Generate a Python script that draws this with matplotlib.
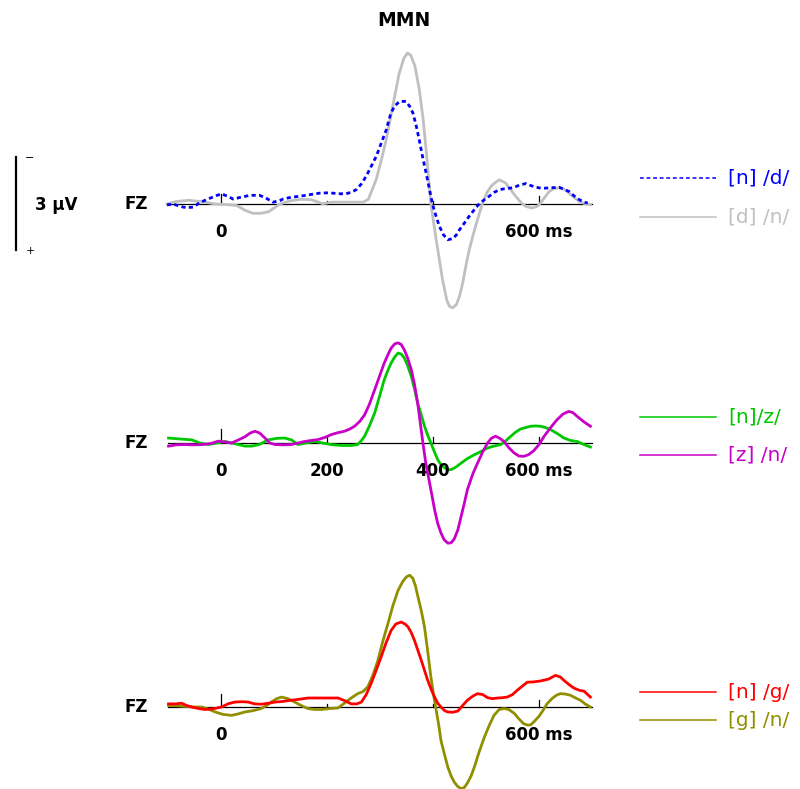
import matplotlib.pyplot as plt
from matplotlib.lines import Line2D

# ERP difference waves (µV, negative plotted up), time in ms
t_nd = [-102, -90, -77, -65, -52, -40, -27, -12, 1, 12, 23, 38, 55, 73, 86, 98, 110, 117, 133, 149,
        167, 186, 200, 211, 225, 236, 246, 255, 265, 274, 283, 293, 302, 312, 320, 327, 337, 349, 356,
        362, 368, 374, 380, 387, 393, 399, 405, 412, 420, 428, 437, 444, 450, 459, 468, 478, 487, 497,
        506, 515, 525, 537, 550, 562, 575, 587, 600, 610, 619, 630, 638, 648, 657, 667, 676, 685, 692]
v_nd = [0.03, 0.0, 0.08, 0.12, 0.1, -0.05, -0.14, -0.25, -0.33, -0.25, -0.16, -0.22, -0.28, -0.28,
        -0.18, -0.06, -0.1, -0.16, -0.22, -0.25, -0.3, -0.35, -0.36, -0.35, -0.33, -0.33, -0.38, -0.46,
        -0.65, -0.9, -1.2, -1.54, -1.95, -2.4, -2.9, -3.15, -3.31, -3.31, -3.15, -2.94, -2.55, -2.07,
        -1.55, -1.0, -0.5, 0.0, 0.35, 0.72, 1.0, 1.15, 1.12, 1.0, 0.83, 0.62, 0.4, 0.18, 0.0, -0.14,
        -0.25, -0.37, -0.46, -0.5, -0.52, -0.6, -0.66, -0.58, -0.52, -0.51, -0.52, -0.53, -0.54, -0.47,
        -0.4, -0.25, -0.14, -0.06, -0.03]

t_dn = [-102, -85, -60, -35, -10, 10, 30, 45, 60, 75, 90, 111, 130, 150, 170, 192, 210, 240, 268, 278,
        293, 303, 312, 324, 336, 345, 352, 358, 366, 374, 381, 387, 396, 406, 418, 426, 431, 437, 444,
        450, 456, 462, 468, 475, 484, 493, 502, 512, 525, 537, 547, 556, 566, 575, 587, 597, 603, 611,
        619, 628, 638, 648, 657, 667, 676, 685, 697]
v_dn = [0.0, -0.08, -0.12, -0.07, 0.0, 0.02, 0.05, 0.2, 0.3, 0.3, 0.25, 0.0, -0.1, -0.15, -0.14, -0.01,
        -0.06, -0.06, -0.06, -0.15, -0.8, -1.45, -2.1, -3.15, -4.2, -4.7, -4.87, -4.8, -4.45, -3.7,
        -2.8, -1.75, 0.0, 1.15, 2.44, 3.1, 3.3, 3.35, 3.25, 2.98, 2.55, 2.0, 1.5, 1.04, 0.5, 0.0, -0.38,
        -0.62, -0.78, -0.68, -0.45, -0.25, -0.05, 0.08, 0.13, 0.07, -0.03, -0.22, -0.4, -0.5, -0.52,
        -0.47, -0.35, -0.2, -0.08, -0.02, 0.02]

t_nz = [-99, -85, -70, -55, -40, -24, -8, 8, 20, 33, 45, 58, 72, 89, 105, 120, 133, 145, 160, 177, 192,
        208, 228, 246, 258, 265, 271, 280, 290, 299, 308, 315, 321, 328, 334, 340, 346, 352, 359, 365,
        371, 378, 384, 390, 396, 403, 409, 415, 422, 428, 434, 443, 453, 465, 478, 490, 503, 515, 528,
        538, 547, 556, 565, 575, 584, 594, 603, 612, 622, 635, 647, 660, 672, 685, 697]
v_nz = [-0.16, -0.14, -0.12, -0.1, 0.0, 0.05, 0.0, -0.05, 0.0, 0.05, 0.1, 0.1, 0.05, -0.1, -0.15, -0.16,
        -0.1, 0.05, 0.0, -0.05, 0.0, 0.05, 0.08, 0.08, 0.05, -0.08, -0.22, -0.55, -0.97, -1.5, -2.04,
        -2.35, -2.58, -2.78, -2.9, -2.87, -2.74, -2.5, -2.15, -1.75, -1.29, -0.9, -0.54, -0.25, 0.0, 0.3,
        0.54, 0.7, 0.8, 0.86, 0.86, 0.78, 0.65, 0.5, 0.38, 0.28, 0.16, 0.1, 0.05, -0.08, -0.22, -0.35,
        -0.45, -0.5, -0.54, -0.55, -0.54, -0.5, -0.43, -0.3, -0.16, -0.08, -0.05, 0.05, 0.13]

t_zn = [-99, -85, -68, -52, -36, -20, -5, 8, 20, 33, 45, 55, 64, 73, 83, 92, 102, 118, 133, 145, 158, 170,
        183, 196, 208, 220, 233, 243, 252, 262, 271, 280, 290, 299, 308, 315, 321, 328, 334, 340, 346,
        352, 359, 365, 371, 376, 381, 386, 390, 397, 403, 409, 415, 421, 428, 434, 440, 447, 453, 459,
        465, 475, 484, 494, 503, 510, 518, 526, 534, 543, 553, 562, 571, 580, 590, 600, 609, 622, 634,
        645, 656, 664, 672, 685, 697]
v_zn = [0.1, 0.06, 0.05, 0.06, 0.05, 0.02, -0.06, -0.03, 0.0, -0.1, -0.2, -0.32, -0.38, -0.32, -0.16,
        0.0, 0.05, 0.06, 0.05, 0.0, -0.05, -0.08, -0.11, -0.18, -0.27, -0.33, -0.38, -0.45, -0.54, -0.7,
        -0.91, -1.25, -1.72, -2.15, -2.58, -2.85, -3.06, -3.2, -3.23, -3.18, -3.0, -2.75, -2.37, -1.9,
        -1.29, -0.65, 0.0, 0.6, 0.97, 1.6, 2.15, 2.6, 2.9, 3.12, 3.23, 3.22, 3.1, 2.8, 2.37, 1.95, 1.5,
        1.0, 0.65, 0.28, 0.0, -0.15, -0.22, -0.15, -0.05, 0.15, 0.32, 0.42, 0.43, 0.38, 0.25, 0.05,
        -0.2, -0.5, -0.75, -0.93, -1.02, -0.98, -0.86, -0.68, -0.54]

t_ng = [-99, -87, -74, -65, -55, -42, -30, -15, 1, 13, 26, 40, 51, 64, 76, 89, 102, 117, 133, 148, 164,
        180, 196, 210, 221, 234, 246, 256, 265, 274, 283, 292, 302, 311, 321, 330, 340, 347, 353, 359,
        365, 371, 378, 384, 390, 397, 403, 409, 415, 422, 428, 437, 447, 456, 465, 475, 484, 494, 503,
        512, 522, 531, 540, 550, 559, 569, 578, 590, 603, 618, 631, 640, 647, 657, 666, 676, 685, 697]
v_ng = [-0.1, -0.1, -0.12, -0.05, 0.0, 0.05, 0.08, 0.06, 0.0, -0.1, -0.16, -0.17, -0.16, -0.1, -0.09,
        -0.12, -0.16, -0.18, -0.22, -0.25, -0.29, -0.29, -0.29, -0.29, -0.29, -0.2, -0.1, -0.1, -0.16,
        -0.4, -0.75, -1.15, -1.61, -2.05, -2.47, -2.68, -2.74, -2.68, -2.58, -2.4, -2.15, -1.85, -1.5,
        -1.18, -0.86, -0.55, -0.32, -0.12, 0.0, 0.12, 0.16, 0.17, 0.13, -0.05, -0.22, -0.35, -0.43, -0.4,
        -0.3, -0.27, -0.29, -0.3, -0.32, -0.4, -0.54, -0.68, -0.8, -0.81, -0.84, -0.9, -1.02, -0.97,
        -0.86, -0.72, -0.61, -0.54, -0.51, -0.32]

t_gn = [-99, -84, -68, -52, -36, -22, -11, 4, 20, 33, 45, 60, 76, 86, 95, 105, 114, 126, 139, 151, 164,
        177, 189, 205, 221, 231, 240, 249, 258, 268, 277, 286, 296, 305, 315, 324, 334, 343, 350, 356,
        362, 367, 371, 378, 384, 390, 396, 401, 406, 411, 415, 422, 428, 434, 440, 447, 453, 459, 465,
        472, 478, 487, 497, 506, 515, 525, 534, 543, 553, 562, 571, 578, 584, 592, 600, 608, 615, 625,
        633, 640, 649, 659, 668, 678, 687, 697]
v_gn = [-0.05, -0.04, -0.02, 0.0, 0.0, 0.08, 0.16, 0.24, 0.27, 0.22, 0.16, 0.12, 0.05, -0.05, -0.16,
        -0.27, -0.32, -0.27, -0.16, -0.05, 0.05, 0.08, 0.08, 0.05, 0.03, -0.1, -0.22, -0.33, -0.43, -0.5,
        -0.65, -1.0, -1.5, -2.1, -2.69, -3.25, -3.76, -4.05, -4.2, -4.25, -4.15, -3.9, -3.6, -3.1, -2.58,
        -1.8, -0.97, -0.4, 0.1, 0.6, 1.08, 1.55, 1.94, 2.22, 2.42, 2.57, 2.63, 2.6, 2.45, 2.22, 1.94,
        1.45, 0.97, 0.6, 0.27, 0.08, 0.05, 0.08, 0.2, 0.38, 0.54, 0.58, 0.58, 0.45, 0.3, 0.1, -0.1,
        -0.28, -0.38, -0.43, -0.42, -0.38, -0.3, -0.22, -0.1, 0.0]

W, H = 800, 789
X0 = 221          # pixel column of 0 ms
PX_MS = 0.53
PX_UV = 31

fig = plt.figure(figsize=(W / 100, H / 100), dpi=100)
fig.patch.set_facecolor("white")


def fx(px):
    return px / W


def fy(py):
    return 1 - py / H


def panel(base, top_uv, bot_uv, tick_hts, labels):
    xmin, xmax = -110, 710
    left = X0 + xmin * PX_MS
    width = (xmax - xmin) * PX_MS
    top = base + top_uv * PX_UV
    bot = base + bot_uv * PX_UV
    ax = fig.add_axes([fx(left), fy(bot), width / W, (bot - top) / H])
    ax.set_xlim(xmin, xmax)
    ax.set_ylim(bot_uv, top_uv)
    ax.axis("off")
    ax.plot([-100, 700], [0, 0], color="black", lw=0.9, zorder=1)
    for t, h in zip([0, 200, 400, 600], tick_hts):
        ax.plot([t, t], [0, -h / PX_UV], color="black", lw=0.9, zorder=1)
    for t, s in labels:
        ax.text(t, 28 / PX_UV, s, ha="center", va="center", fontsize=12,
                fontweight="bold", clip_on=False)
    fig.text(fx(148), fy(base), "FZ", ha="right", va="center",
             fontsize=12, fontweight="bold")
    return ax


def legend_entry(y, color, text, ls="-"):
    fig.add_artist(Line2D([fx(640), fx(716)], [fy(y), fy(y)], color=color,
                          lw=1.1, linestyle=ls, transform=fig.transFigure))
    fig.text(fx(728), fy(y), text, color=color, fontsize=14.5,
             ha="left", va="center")


blue = "#0000ff"
gray = "#c0c0c0"
green = "#00c800"
magenta = "#c800c8"
red = "#ff0000"
olive = "#8f8f00"

ax1 = panel(204, -5.3, 3.6, [10, 3, 3, 8], [(0, "0"), (600, "600 ms")])
ax1.plot(t_dn, v_dn, color=gray, lw=2.0, zorder=2)
ax1.plot(t_nd, v_nd, color=blue, lw=2.0, linestyle=(0, (1.5, 1.2)), zorder=3)

ax2 = panel(443, -3.6, 3.6, [14, 6, 6, 6],
            [(0, "0"), (200, "200"), (400, "400"), (600, "600 ms")])
ax2.plot(t_nz, v_nz, color=green, lw=2.0, zorder=2)
ax2.plot(t_zn, v_zn, color=magenta, lw=2.0, zorder=3)

ax3 = panel(707, -4.6, 2.75, [13, 3, 3, 7], [(0, "0"), (600, "600 ms")])
ax3.plot(t_gn, v_gn, color=olive, lw=2.0, zorder=2)
ax3.plot(t_ng, v_ng, color=red, lw=2.0, zorder=3)

legend_entry(178, blue, "[n] /d/", ls=(0, (2.5, 1.8)))
legend_entry(217, gray, "[d] /n/")
legend_entry(417, green, "[n]/z/")
legend_entry(455, magenta, "[z] /n/")
legend_entry(692, red, "[n] /g/")
legend_entry(720, olive, "[g] /n/")

# calibration bar: 3 µV, negative up
fig.add_artist(Line2D([fx(16), fx(16)], [fy(157), fy(250)], color="black",
                      lw=1.6, transform=fig.transFigure))
fig.text(fx(30), fy(158), "\u2212", ha="center", va="center", fontsize=8)
fig.text(fx(30), fy(251), "+", ha="center", va="center", fontsize=8)
fig.text(fx(35), fy(205), "3 \u00b5V", ha="left", va="center",
         fontsize=12, fontweight="bold")

fig.text(fx(404), fy(21), "MMN", ha="center", va="center",
         fontsize=13.5, fontweight="bold")

fig.savefig("out.png", dpi=100)
